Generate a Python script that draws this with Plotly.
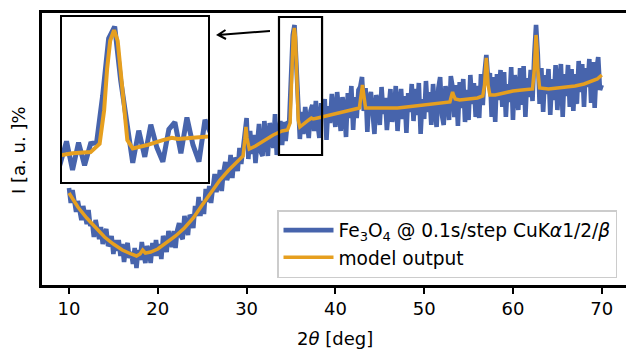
import numpy as np
import plotly.graph_objects as go

# ---- data ----
two_theta = np.round(np.arange(10, 70.001, 0.2), 2)
measured = [
    97, 82, 95, 85, 73, 84, 74, 65, 79, 72, 61, 75, 59, 63, 48, 65, 56, 46, 58, 41,
    51, 56, 39, 42, 49, 31, 45, 34, 45, 29, 41, 23, 36, 42, 27, 33, 21, 37, 17, 35,
    25, 43, 31, 22, 39, 34, 22, 42, 29, 45, 29, 41, 26, 49, 43, 33, 54, 48, 38, 54,
    37, 55, 62, 49, 46, 69, 55, 50, 70, 67, 57, 79, 69, 88, 69, 84, 71, 96, 83, 99,
    82, 101, 111, 93, 101, 115, 94, 113, 123, 105, 111, 130, 107, 127, 124, 114, 137, 121, 138, 148,
    167, 126, 154, 131, 150, 122, 148, 161, 133, 129, 164, 141, 129, 162, 153, 137, 171, 130, 146, 164,
    140, 163, 144, 162, 163, 202, 250, 260, 215, 177, 146, 173, 151, 178, 159, 147, 174, 180, 154, 184,
    161, 147, 182, 170, 186, 145, 179, 162, 191, 176, 158, 193, 168, 154, 188, 176, 148, 192, 167, 199,
    155, 188, 167, 195, 198, 208, 174, 197, 153, 186, 193, 166, 151, 190, 181, 160, 198, 171, 187, 155,
    185, 196, 163, 174, 199, 154, 183, 196, 166, 189, 152, 192, 173, 201, 164, 196, 170, 202, 151, 186,
    166, 204, 173, 193, 160, 201, 177, 158, 197, 208, 170, 160, 199, 188, 165, 209, 198, 168, 200, 159,
    203, 177, 206, 163, 195, 165, 210, 181, 202, 168, 199, 167, 211, 180, 212, 230, 205, 212, 168, 208,
    163, 211, 185, 215, 178, 213, 168, 201, 183, 218, 165, 210, 197, 175, 217, 180, 219, 168, 207, 188,
    215, 184, 230, 260, 230, 181, 217, 173, 210, 191, 216, 170, 206, 185, 220, 175, 203, 221, 168, 211,
    189, 220, 178, 216, 174, 211, 181, 224, 193, 221, 178, 217, 198, 226, 182, 223, 177, 215, 228, 195,
    200,
]
model_x = [10, 10.5, 11, 12, 13, 14, 15, 16, 17, 17.6, 18, 18.3, 18.6, 19.2, 20, 21, 22, 23, 24, 25,
           26, 27, 28, 29, 29.6, 29.8, 29.93, 30.05, 30.3, 31, 32, 33, 34, 34.6, 34.9, 35.05, 35.15, 35.25, 35.38, 35.5,
           35.6, 35.7, 35.82, 36.0, 36.5, 37, 37.3, 37.5, 38, 39, 40, 41, 42, 42.7, 42.9, 43.05, 43.2, 43.4, 44, 45,
           46, 47, 48, 49, 50, 51, 52, 52.9, 53.1, 53.2, 53.3, 53.5, 54, 55, 56, 56.6, 56.8, 56.9, 57.0, 57.1,
           57.2, 57.4, 58, 59, 60, 61, 62, 62.2, 62.4, 62.5, 62.6, 62.7, 62.8, 63.0, 64, 65, 66, 67, 68, 69,
           69.5, 70]
model_y = [92, 85, 78, 67, 57, 48, 41, 35, 31, 29, 31, 35, 32, 33, 36, 42, 49, 57, 67, 80,
           93, 105, 115, 124, 129, 145, 158, 147, 136, 139, 145, 150, 154, 155, 162, 190, 225, 248, 257, 248,
           222, 190, 165, 158, 161, 165, 167, 166, 167, 169, 171, 173, 175, 177, 190, 200, 190, 177, 177, 177,
           177, 177, 178, 179, 180, 181, 182, 183, 190, 193, 190, 186, 185, 186, 187, 189, 200, 215, 227, 215,
           200, 190, 190, 192, 194, 195, 196, 196, 215, 238, 250, 238, 215, 197, 196, 197, 198, 199, 201, 204,
           206, 210]
x_ticks = [10, 20, 30, 40, 50, 60, 70]
zoom_x = [33.65, 38.5]
zoom_y = [130, 268]

BLUE = "#4764ac"
ORANGE = "#e69f1f"
FONT = "DejaVu Sans"
FS = 18

W, H = 626, 349
L, R, T, B = 42, 0, 13, 64
PW, PH = W - L - R, H - T - B

def px(xp):
    return (xp - L) / PW

def py(yp):
    return (H - B - yp) / PH

fig = go.Figure()
fig.add_trace(go.Scatter(x=two_theta, y=measured, mode="lines",
                         line=dict(color=BLUE, width=4.6),
                         name="Fe<sub>3</sub>O<sub>4</sub> @ 0.1s/step CuK<i>α</i>1/2/<i>β</i>",
                         legendgroup="a"))
fig.add_trace(go.Scatter(x=model_x, y=model_y, mode="lines",
                         line=dict(color=ORANGE, width=3.5),
                         name="model output", legendgroup="b"))
# inset
fig.add_trace(go.Scatter(x=two_theta, y=measured, mode="lines", xaxis="x2", yaxis="y2",
                         line=dict(color=BLUE, width=5), showlegend=False))
fig.add_trace(go.Scatter(x=model_x, y=model_y, mode="lines", xaxis="x2", yaxis="y2",
                         line=dict(color=ORANGE, width=4), showlegend=False))

fig.add_shape(type="rect", xref="x", yref="y", x0=zoom_x[0], x1=zoom_x[1], y0=zoom_y[0], y1=zoom_y[1],
              line=dict(color="black", width=2.2))

# arrow
hx, hy = 218, 35
tx, ty = 270, 31
a1 = (226, 39)
a2 = (225.5, 30)
path = (f"M {px(tx)},{py(ty)} L {px(hx)},{py(hy)} "
        f"M {px(a1[0])},{py(a1[1])} L {px(hx)},{py(hy)} L {px(a2[0])},{py(a2[1])}")
fig.add_shape(type="path", xref="paper", yref="paper", path=path,
              line=dict(color="black", width=2))

fig.add_annotation(text="2<i>θ</i> [deg]", xref="paper", yref="paper",
                   x=px(335), y=py(338), xanchor="center", yanchor="middle", showarrow=False,
                   font=dict(family=FONT, size=FS, color="black"))
fig.add_annotation(text="I [a. u. ]%", xref="paper", yref="paper",
                   x=px(18), y=py(150), xanchor="center", yanchor="middle", showarrow=False,
                   textangle=-90, font=dict(family=FONT, size=FS, color="black"))

fig.update_layout(
    width=W, height=H,
    margin=dict(l=L, r=R, t=T, b=B),
    paper_bgcolor="white", plot_bgcolor="white",
    font=dict(family=FONT, size=FS, color="black"),
    xaxis=dict(range=[6.96, 72.73], tickvals=x_ticks, ticks="outside", ticklen=6, tickwidth=1.8,
               tickcolor="black", showline=True, linecolor="black", linewidth=2.5, mirror=True,
               showgrid=False, zeroline=False, tickfont=dict(size=FS)),
    yaxis=dict(range=[0, 272], showticklabels=False, ticks="", showline=True, linecolor="black",
               linewidth=2.5, showgrid=False, zeroline=False),
    xaxis2=dict(domain=[px(62), px(208)], anchor="y2", range=zoom_x, showticklabels=False, ticks="",
                showline=True, mirror=True, linecolor="black", linewidth=2.2, showgrid=False, zeroline=False),
    yaxis2=dict(domain=[py(182), py(17)], anchor="x2", range=zoom_y, showticklabels=False, ticks="",
                showline=True, mirror=True, linecolor="black", linewidth=2.2, showgrid=False, zeroline=False),
    legend=dict(x=px(277), y=py(210), xanchor="left", yanchor="top",
                bgcolor="rgba(255,255,255,0.85)", bordercolor="#cccccc", borderwidth=1.5,
                font=dict(size=18.6), itemwidth=50, tracegroupgap=0, traceorder="grouped"),
    showlegend=True,
)

fig.write_html("out.html")
